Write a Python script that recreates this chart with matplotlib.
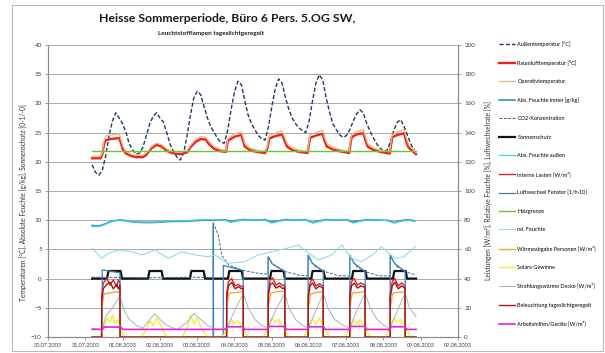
import numpy as np
import pandas as pd
import matplotlib
matplotlib.use('Agg')
import matplotlib.pyplot as plt
import matplotlib.dates as mdates
from matplotlib.patches import Rectangle

plt.rcParams['font.family'] = ['Lato', 'DejaVu Sans']

# Zeit in Stunden ab 01.08.2003 00:00
start = pd.Timestamp('2003-08-01 00:00')

# --- linke Achse ---------------------------------------------------------
t_aussen = np.arange(0, 192, 2)
aussen = [19.5, 18.2, 17.7, 18.5, 21.0, 24.5, 27.0, 28.4, 27.5, 26.5, 25.0, 23.0,
          22.0, 21.3, 21.5, 22.5, 24.5, 26.5, 27.8, 28.4, 27.5, 26.8, 25.0, 23.0,
          21.8, 20.8, 20.3, 21.5, 24.5, 28.0, 31.0, 32.1, 31.5, 29.5, 27.5, 26.0,
          25.0, 24.0, 23.3, 23.2, 25.5, 29.0, 32.0, 33.8, 33.2, 30.5, 28.0, 26.5,
          25.5, 24.5, 24.0, 23.7, 26.0, 29.5, 32.5, 34.2, 33.5, 31.0, 29.0, 27.5,
          26.5, 25.8, 25.3, 25.0, 27.0, 30.5, 33.5, 34.9, 34.0, 31.0, 28.5, 26.5,
          25.5, 24.6, 24.2, 24.5, 25.5, 27.0, 28.2, 28.9, 28.3, 26.5, 25.2, 24.0,
          23.0, 22.3, 21.8, 22.0, 23.5, 25.5, 26.8, 27.2, 26.0, 24.5, 23.0, 22.0]

t_raum = [0, 5, 6, 7, 8, 11, 14, 16, 17, 18, 20, 23,
          26, 30, 32, 35, 38, 41, 44, 47,
          52, 56, 58, 61, 64, 67, 69, 72, 76,
          79, 80, 84, 88, 89, 90, 93, 97, 102,
          103.5, 104.5, 108, 112, 113.5, 115, 118, 122, 127,
          127.5, 128.5, 132, 136, 137, 138.5, 142, 146, 151.5,
          152, 153, 156, 160, 161, 162.5, 166, 170, 175.5,
          176, 177, 180, 184, 185, 186.5, 189, 191]
raumluft = [20.6, 20.6, 21.2, 23.0, 23.7, 23.9, 24.0, 24.1, 23.2, 22.2, 21.4, 21.0,
            20.8, 20.8, 21.2, 22.3, 22.9, 22.6, 21.9, 21.5,
            21.3, 21.6, 22.5, 23.4, 23.9, 23.8, 23.0, 22.2, 21.8,
            21.7, 23.6, 24.3, 24.6, 23.6, 22.6, 22.0, 21.7, 21.5,
            22.4, 24.0, 24.4, 24.7, 23.6, 22.6, 22.0, 21.7, 21.5,
            22.4, 24.1, 24.5, 24.8, 23.6, 22.6, 22.1, 21.8, 21.5,
            22.4, 24.2, 24.7, 24.9, 23.8, 22.6, 22.0, 21.7, 21.4,
            22.4, 24.2, 24.6, 24.9, 23.7, 22.5, 21.8, 21.3]
operativ = [20.9, 20.9, 21.5, 23.5, 24.4, 24.6, 24.7, 24.8, 23.8, 22.7, 21.8, 21.3,
            21.1, 21.1, 21.5, 22.6, 23.2, 22.9, 22.2, 21.8,
            21.6, 21.9, 22.8, 23.8, 24.3, 24.2, 23.4, 22.6, 22.1,
            22.0, 23.9, 24.8, 25.1, 24.2, 23.1, 22.4, 22.0, 21.8,
            22.7, 24.5, 24.9, 25.3, 24.2, 23.1, 22.4, 22.0, 21.8,
            22.7, 24.6, 25.0, 25.4, 24.2, 23.1, 22.5, 22.1, 21.8,
            22.7, 24.7, 25.2, 25.5, 24.4, 23.1, 22.4, 22.0, 21.7,
            22.7, 24.7, 25.1, 25.5, 24.3, 23.0, 22.2, 21.6]

t_grenze = [0, 191]
heizgrenze = [21.9, 21.9]

t_feuchte = [0, 4, 8, 12, 16, 20, 24, 30, 36, 42, 48, 54, 60, 66, 72, 78, 82, 86, 90, 96,
             102, 106, 110, 114, 120, 126, 130, 134, 138, 144, 150, 154, 158, 162, 168,
             174, 178, 182, 186, 190]
abs_innen = [9.1, 9.0, 9.4, 9.9, 10.0, 9.9, 9.7, 9.6, 9.6, 9.7, 9.8, 9.8, 9.9, 10.0, 10.0,
             10.1, 9.8, 10.0, 10.1, 10.0, 10.1, 9.7, 9.9, 10.1, 10.0, 10.1, 9.6, 9.9, 10.1,
             10.0, 10.1, 9.7, 9.9, 10.1, 10.0, 10.0, 9.6, 9.9, 10.1, 9.9]
abs_aussen = [8.9, 8.9, 9.3, 9.8, 10.1, 10.0, 9.8, 9.7, 9.7, 9.8, 9.9, 9.9, 10.0, 10.1, 10.1,
              10.0, 9.6, 9.9, 10.0, 10.1, 10.0, 9.5, 9.8, 10.0, 10.1, 10.0, 9.5, 9.8, 10.0,
              10.1, 10.0, 9.5, 9.8, 10.0, 10.1, 9.9, 9.5, 9.8, 10.0, 9.8]

t_ss = [0, 8.8, 9.6, 16.8, 17.6, 33, 33.8, 41, 41.8, 57.7, 58.5, 65.8, 66.6,
        80.1, 80.9, 88.2, 89, 104.9, 105.7, 112.9, 113.7, 129.2, 130, 136.5, 137.3,
        153.2, 154, 161.2, 162, 177.4, 178.2, 184.9, 185.7, 191]
sonnenschutz = [0, 0, 1.3, 1.3, 0, 0, 1.3, 1.3, 0, 0, 1.3, 1.3, 0,
                0, 1.3, 1.3, 0, 0, 1.3, 1.3, 0, 0, 1.3, 1.3, 0,
                0, 1.3, 1.3, 0, 0, 1.3, 1.3, 0, 0]

# --- rechte Achse --------------------------------------------------------
t_rf = [0, 5.6, 9.6, 15.5, 23.3, 29.2, 37.1, 44.9, 52.8, 60.7, 68.5, 72.5, 80, 90, 98,
        106, 114, 121.6, 127, 133.4, 141.3, 147.2, 153, 159, 165, 170.7, 178.6, 184, 190.4]
rel_feuchte = [60.8, 53.9, 57.3, 59.6, 58.4, 56.2, 59.6, 53.9, 58.4, 56.2, 55.0, 56.2, 50.5,
               51.6, 56.2, 58.4, 60.5, 63.0, 58.0, 52.7, 56.2, 63.0, 53.9, 51.6, 56.0,
               61.9, 53.9, 55.0, 61.9]

t_co2 = [0, 30, 60, 71.4, 71.5, 74.4, 76.4, 80.4, 88.3, 98, 103.7, 103.8, 106.3, 108.9,
         113.8, 121.6, 127.3, 127.4, 129.9, 131.5, 137.4, 145.3, 151.9, 152, 154.5, 156,
         161, 168.8, 175.7, 175.8, 178.3, 179.6, 184.5, 191]
co2 = [41, 40.5, 41, 40.5, 78, 70, 56, 49.3, 45.9, 43.6, 43, 55, 50, 48.2,
       44.8, 42.4, 42, 56, 50.5, 48.2, 44.8, 42, 41.8, 56, 50.5, 48.2,
       44.8, 42, 41.8, 56, 50.5, 48.2, 44.8, 42.5]

t_lw = [0, 5.9, 6, 16.4, 16.5, 71.4, 71.5, 71.6, 77.3, 77.4, 89.1, 89.2,
        103.7, 103.8, 106.3, 113.7, 113.8, 127.3, 127.4, 129.9, 136.3, 136.4,
        151.9, 152, 154.5, 161, 161.1, 175.7, 175.8, 178.3, 184.6, 184.7, 191]
luftwechsel = [0, 0, 46, 44, 0, 0, 78, 0, 0, 49, 45.5, 0,
               0, 55, 50, 44.8, 0, 0, 56, 50.5, 45, 0,
               0, 56, 50.5, 44.8, 0, 0, 56, 50.5, 44.8, 0, 0]

t_il = [0, 5.6, 5.7, 6.6, 8.6, 10.6, 12.5, 14.5, 15.5, 16.4, 16.5,
        79.3, 79.4, 80.4, 82.3, 84.3, 86.3, 88.0, 89.1, 89.2,
        103.8, 103.9, 105.0, 106.5, 108.5, 110.5, 112.5, 113.6, 113.7,
        127.4, 127.5, 128.5, 130.0, 132.0, 134.0, 136.2, 136.3,
        151.9, 152.0, 153.0, 154.5, 156.5, 158.5, 160.9, 161.0,
        175.7, 175.8, 177.0, 178.5, 180.5, 182.5, 184.5, 184.6, 191]
interne_lasten = [0, 0, 28, 36.8, 40.2, 35.6, 39.1, 34.5, 39.1, 37, 0,
                  0, 30, 38, 40, 35, 36, 34.5, 35, 0,
                  0, 31, 39, 40.5, 35.5, 37, 35, 36, 0,
                  0, 30, 37, 40, 35, 36.5, 35, 0,
                  0, 31, 38, 40, 35.5, 37, 35.5, 0,
                  0, 30, 38, 40, 35, 37, 35, 0, 0]
beleuchtung = [0, 0, 25, 33, 36, 37.5, 33, 36, 33, 35, 0,
               0, 27, 35, 37.5, 33, 34.5, 33, 33.5, 0,
               0, 28, 36, 37, 33.5, 35, 33, 34, 0,
               0, 27, 35, 37, 33, 35, 33.5, 0,
               0, 28, 35, 37, 33.5, 35, 34, 0,
               0, 27, 35, 37.5, 33, 35, 33.5, 0, 0]

t_pers = [0, 5.6, 5.7, 7.0, 12.0, 16.4, 16.5,
          79.3, 79.4, 80.8, 85.0, 89.1, 89.2,
          103.8, 103.9, 105.3, 109.0, 113.6, 113.7,
          127.4, 127.5, 128.9, 132.0, 136.2, 136.3,
          151.9, 152.0, 153.4, 156.5, 160.9, 161.0,
          175.7, 175.8, 177.2, 180.0, 184.5, 184.6, 191]
personen = [0, 0, 20, 29.5, 30.5, 31, 0,
            0, 21, 30, 30.5, 31, 0,
            0, 21, 30, 31, 31.5, 0,
            0, 20, 29.5, 30.5, 31, 0,
            0, 21, 30, 30.5, 31, 0,
            0, 20, 30, 30.5, 31, 0, 0]

t_solar = [0, 5, 7, 9, 10.5, 12, 13.5, 15, 17, 19,
           29, 32, 34, 36, 38, 40, 42, 44,
           53, 56, 58, 60, 62, 64, 66, 68,
           77, 80, 82, 84, 86, 88, 90, 92,
           101, 104, 106, 108, 110, 112, 114, 116,
           125, 128, 130, 132, 134, 136, 138, 140,
           149, 152, 154, 156, 158, 160, 162, 164,
           173, 176, 178, 180, 182, 184, 186, 188, 191]
solar = [0, 0, 6, 13, 10, 15, 9, 12, 5, 0,
         0, 5, 11, 8, 13, 9, 4, 0,
         0, 6, 15, 9, 13, 7, 3, 0,
         0, 7, 12, 9, 11, 8, 4, 0,
         0, 8, 13, 10, 12, 8, 4, 0,
         0, 8, 12, 9, 13, 8, 4, 0,
         0, 7, 12, 9, 12, 8, 4, 0,
         0, 8, 13, 10, 12, 8, 4, 0, 0]

t_grau = [0, 6, 8, 12, 16.5, 19, 22, 26, 30, 34, 37, 40, 44, 50, 56, 60, 63, 68, 74, 79.4,
          84, 89.2, 92, 96, 100, 103.7, 108, 113.7, 116, 120, 124, 127.3, 132, 136.3, 139,
          143, 148, 152, 156, 161, 164, 168, 172, 175.7, 180, 184.6, 187, 191]
strahlung = [6, 5, 14, 20, 28, 18, 12, 8, 6, 12, 16, 12, 8, 5, 10, 16, 13, 8, 5, 6,
             18, 30, 20, 12, 8, 6, 18, 30, 20, 12, 8, 6, 18, 30, 20, 12, 8, 6, 18, 30,
             20, 12, 8, 6, 18, 30, 20, 14]

t_mag = [0, 6, 7, 17, 18, 79, 80, 89, 90, 103.5, 104.5, 113.5, 114.5, 127, 128, 136.5,
         137.5, 151.5, 152.5, 161, 162, 175.5, 176.5, 184.5, 185.5, 191]
geraete = [5.2, 5.2, 6.8, 6.8, 5.2, 5.2, 7, 7, 5.2, 5.2, 7.2, 7.2, 5.2, 5.2, 7, 7,
           5.2, 5.2, 7.2, 7.2, 5.2, 5.2, 7, 7, 5.2, 5.2]


def zeit(stunden):
    return start + pd.to_timedelta(np.asarray(stunden, dtype=float), unit='h')


fig = plt.figure(figsize=(6.05, 3.53), dpi=100)
fig.patches.append(Rectangle((12 / 605, 2 / 353), 591 / 605, 346 / 353,
                             transform=fig.transFigure, fill=False,
                             edgecolor='#b8b8b8', linewidth=0.8))
ax = fig.add_axes([48 / 605, 16 / 353, 410 / 605, 292 / 353])
ax2 = ax.twinx()

h = {}
h[1], = ax.plot(zeit(t_aussen), aussen, color='#1f3a66', lw=1.0, ls=(0, (3, 1.5)))
h[2], = ax.plot(zeit(t_raum), raumluft, color='#e8241c', lw=1.7)
h[3], = ax.plot(zeit(t_raum), operativ, color='#f5b07a', lw=0.9)
h[4], = ax.plot(zeit(t_feuchte), abs_innen, color='#3d8fc6', lw=1.2)
h[6], = ax.plot(zeit(t_ss), sonnenschutz, color='#111111', lw=1.6)
h[7], = ax.plot(zeit(t_feuchte), abs_aussen, color='#45d2e0', lw=0.9)
h[10], = ax.plot(zeit(t_grenze), heizgrenze, color='#6cc437', lw=1.0)

h[5], = ax2.plot(zeit(t_co2), co2, color='#2f6a9e', lw=0.7, ls=(0, (3, 1.5)))
h[8], = ax2.plot(zeit(t_il), interne_lasten, color='#e3201b', lw=1.0)
h[9], = ax2.plot(zeit(t_lw), luftwechsel, color='#3a80bd', lw=0.9)
h[11], = ax2.plot(zeit(t_rf), rel_feuchte, color='#93dbe9', lw=0.8)
h[12], = ax2.plot(zeit(t_pers), personen, color='#f6a53a', lw=1.0)
h[13], = ax2.plot(zeit(t_solar), solar, color='#fbe938', lw=1.0)
h[14], = ax2.plot(zeit(t_grau), strahlung, color='#a7b3bf', lw=0.7)
h[15], = ax2.plot(zeit(t_il), beleuchtung, color='#a3131c', lw=1.0)
h[16], = ax2.plot(zeit(t_mag), geraete, color='#e024df', lw=1.2)

xmin = start - pd.Timedelta(hours=26)
xmax = start + pd.Timedelta(hours=215.75)
ax.set_xlim(xmin, xmax)
ax.set_ylim(-10, 40)
ax2.set_ylim(0, 200)
ax.set_yticks(range(-10, 41, 5))
ax2.set_yticks(range(0, 201, 20))

ticks = pd.date_range(xmin, xmax, periods=12)
ax.set_xticks(ticks)
ax.xaxis.set_major_formatter(mdates.DateFormatter('%d.%m.%Y'))

ax.grid(axis='y', color='#a8a8a8', lw=0.7)
ax.set_axisbelow(True)
for a in (ax, ax2):
    for s in a.spines.values():
        s.set_color('#8c8c8c')
        s.set_linewidth(0.8)
    a.spines['top'].set_visible(False)
    a.tick_params(length=2.5, width=0.6, color='#8c8c8c', labelsize=4.5,
                  labelcolor='#404040', pad=2)
ax.tick_params(axis='x', labelsize=4, pad=2)

ax.set_ylabel('Temperaturen [°C], Absolute Feuchte [g/kg], Sonnenschutz [0-1/-0]',
              fontsize=4.8, color='#303030')
ax.yaxis.set_label_coords(-0.052, 0.46)
ax2.set_ylabel('Leistungen [W/m²], Relative Feuchte [%], Luftwechselrate [%]',
               fontsize=4.8, color='#303030', rotation=90)
ax2.yaxis.set_label_coords(1.063, 0.5)

fig.text(227 / 605, 1 - 19 / 353, 'Heisse Sommerperiode, Büro 6 Pers. 5.OG SW,',
         ha='center', va='center', fontsize=8.8, fontweight='bold', color='#1a1a1a')
fig.text(211 / 605, 1 - 34 / 353, 'Leuchtstofflampen tageslichtgeregelt',
         ha='center', va='center', fontsize=4.6, fontweight='bold', color='#1a1a1a')

labels = {
    1: 'Außentemperatur [°C]',
    2: 'Raumlufttemperatur [°C]',
    3: 'Operativtemperatur',
    4: 'Abs. Feuchte innen [g/kg]',
    5: 'CO2-Konzentration',
    6: 'Sonnenschutz',
    7: 'Abs. Feuchte außen',
    8: 'Interne Lasten [W/m²]',
    9: 'Luftwechsel Fenster [1/h·10]',
    10: 'Heizgrenze',
    11: 'rel. Feuchte',
    12: 'Wärmeabgabe Personen [W/m²]',
    13: 'Solare Gewinne',
    14: 'Strahlungswärme Decke [W/m²]',
    15: 'Beleuchtung tageslichtgeregelt',
    16: 'Arbeitshilfen/Geräte [W/m²]',
}
keys = list(range(1, 17))
fig.legend([h[k] for k in keys], [labels[k] for k in keys],
           loc='upper left', bbox_to_anchor=(499 / 605, 1 - 41 / 353),
           frameon=False, fontsize=4, handlelength=2.8, handletextpad=0.5,
           labelspacing=2.4, borderaxespad=0, borderpad=0)

fig.savefig('out.png', dpi=100)
